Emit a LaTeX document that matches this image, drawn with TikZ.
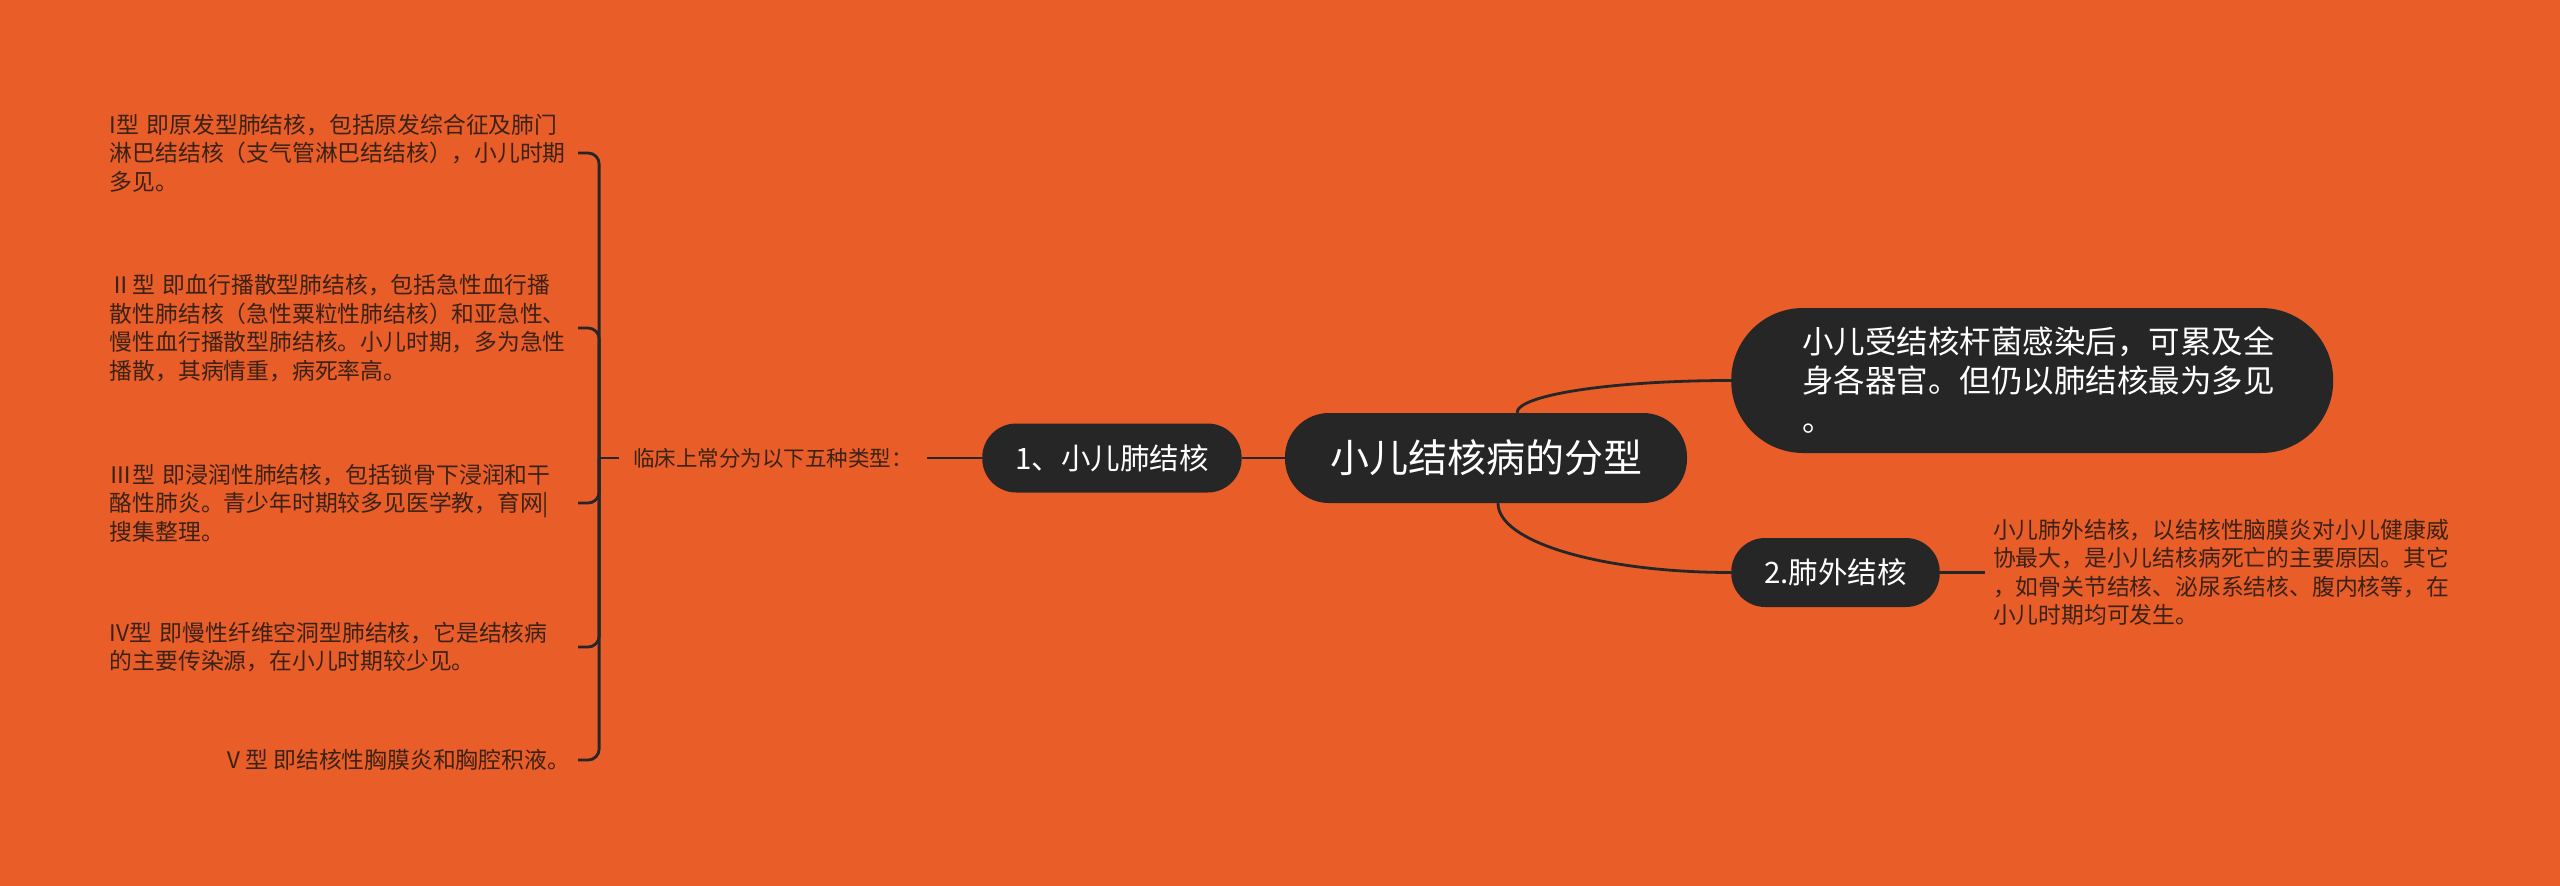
\documentclass[tikz,border=0pt]{standalone}
\usepackage{fontspec}
\setmainfont{Noto Sans CJK SC}
\usetikzlibrary{calc,positioning}
\definecolor{bgorange}{HTML}{E95D29}
\definecolor{nodedark}{HTML}{262626}
\definecolor{leaftext}{HTML}{3A2216}

\begin{document}
\begin{tikzpicture}[x=1pt, y=-1pt,
	topic/.style={fill=nodedark, text=white, rounded corners=34pt, minimum height=69pt, inner xsep=33pt, inner ysep=0pt, font=\fontsize{29.5}{35}\selectfont},
	leaf/.style={text=leaftext, align=left, inner xsep=8pt, inner ysep=0pt, font=\fontsize{22.8}{28.5}\selectfont},
	link/.style={draw=nodedark, line width=2.8pt}]
		\useasboundingbox (0,0) rectangle (2560,886);
		\fill[bgorange] (0,0) rectangle (2560,886);
		
		\node[topic, rounded corners=44pt, minimum height=90pt, inner xsep=45pt, font=\fontsize{39}{46}\selectfont] (root) at (1486,458) {小儿结核病的分型};
		
		\node[topic, left=43pt of root] (n1) {1、小儿肺结核};
		
		\node[text=leaftext, inner xsep=14pt, font=\fontsize{21.5}{26}\selectfont, left=55pt of n1] (types) {临床上常分为以下五种类型：};
		
		\coordinate[left=20pt of types] (fork);
		
		\node[leaf, text width=460pt, anchor=east] (t1) at (578,153) {I型 即原发型肺结核，包括原发综合征及肺门\\淋巴结结核（支气管淋巴结结核），小儿时期\\多见。};
		
		\node[leaf, text width=460pt, anchor=east] (t2) at (578,328) {Ⅱ型 即血行播散型肺结核，包括急性血行播\\散性肺结核（急性粟粒性肺结核）和亚急性、\\慢性血行播散型肺结核。小儿时期，多为急性\\播散，其病情重，病死率高。};
		
		\node[leaf, text width=460pt, anchor=east] (t3) at (578,503) {Ⅲ型 即浸润性肺结核，包括锁骨下浸润和干\\酪性肺炎。青少年时期较多见医学教，育网|\\搜集整理。};
		
		\node[leaf, text width=460pt, anchor=east] (t4) at (578,647) {IV型 即慢性纤维空洞型肺结核，它是结核病\\的主要传染源，在小儿时期较少见。};
		
		\node[leaf, anchor=east] (t5) at (578,760) {Ⅴ型 即结核性胸膜炎和胸腔积液。};
		
		\node[topic, anchor=west, rounded corners=72pt, minimum height=145pt, inner xsep=71pt, text width=460pt, align=left, font=\fontsize{31.5}{39}\selectfont] (info) at (1731,380.5) {小儿受结核杆菌感染后，可累及全\\身各器官。但仍以肺结核最为多见\\。};
		
		\node[topic, anchor=west] (n2) at (1731,572.5) {2.肺外结核};
		
		\node[leaf, text width=460pt, right=45pt of n2] (detail) {小儿肺外结核，以结核性脑膜炎对小儿健康威\\协最大，是小儿结核病死亡的主要原因。其它\\，如骨关节结核、泌尿系结核、腹内核等，在\\小儿时期均可发生。};
		
		\draw[link] (n1) -- (root);
		\draw[link] (types) -- (n1);
		\draw[link] (fork) -- (types);
		\foreach \t in {t1,t2,t3,t4,t5}
			\draw[link, rounded corners=11pt] (fork) |- (\t.east);
		
		\draw[link] ($(root.north)+(31,0)$) .. controls +(0,-18) and +(-118,0) .. (info.west);
		\draw[link] ($(root.south)+(12,0)$) .. controls +(0,39) and +(-129,0) .. (n2.west);
		\draw[link] (n2) -- (detail);
		
\end{tikzpicture}
\end{document}
